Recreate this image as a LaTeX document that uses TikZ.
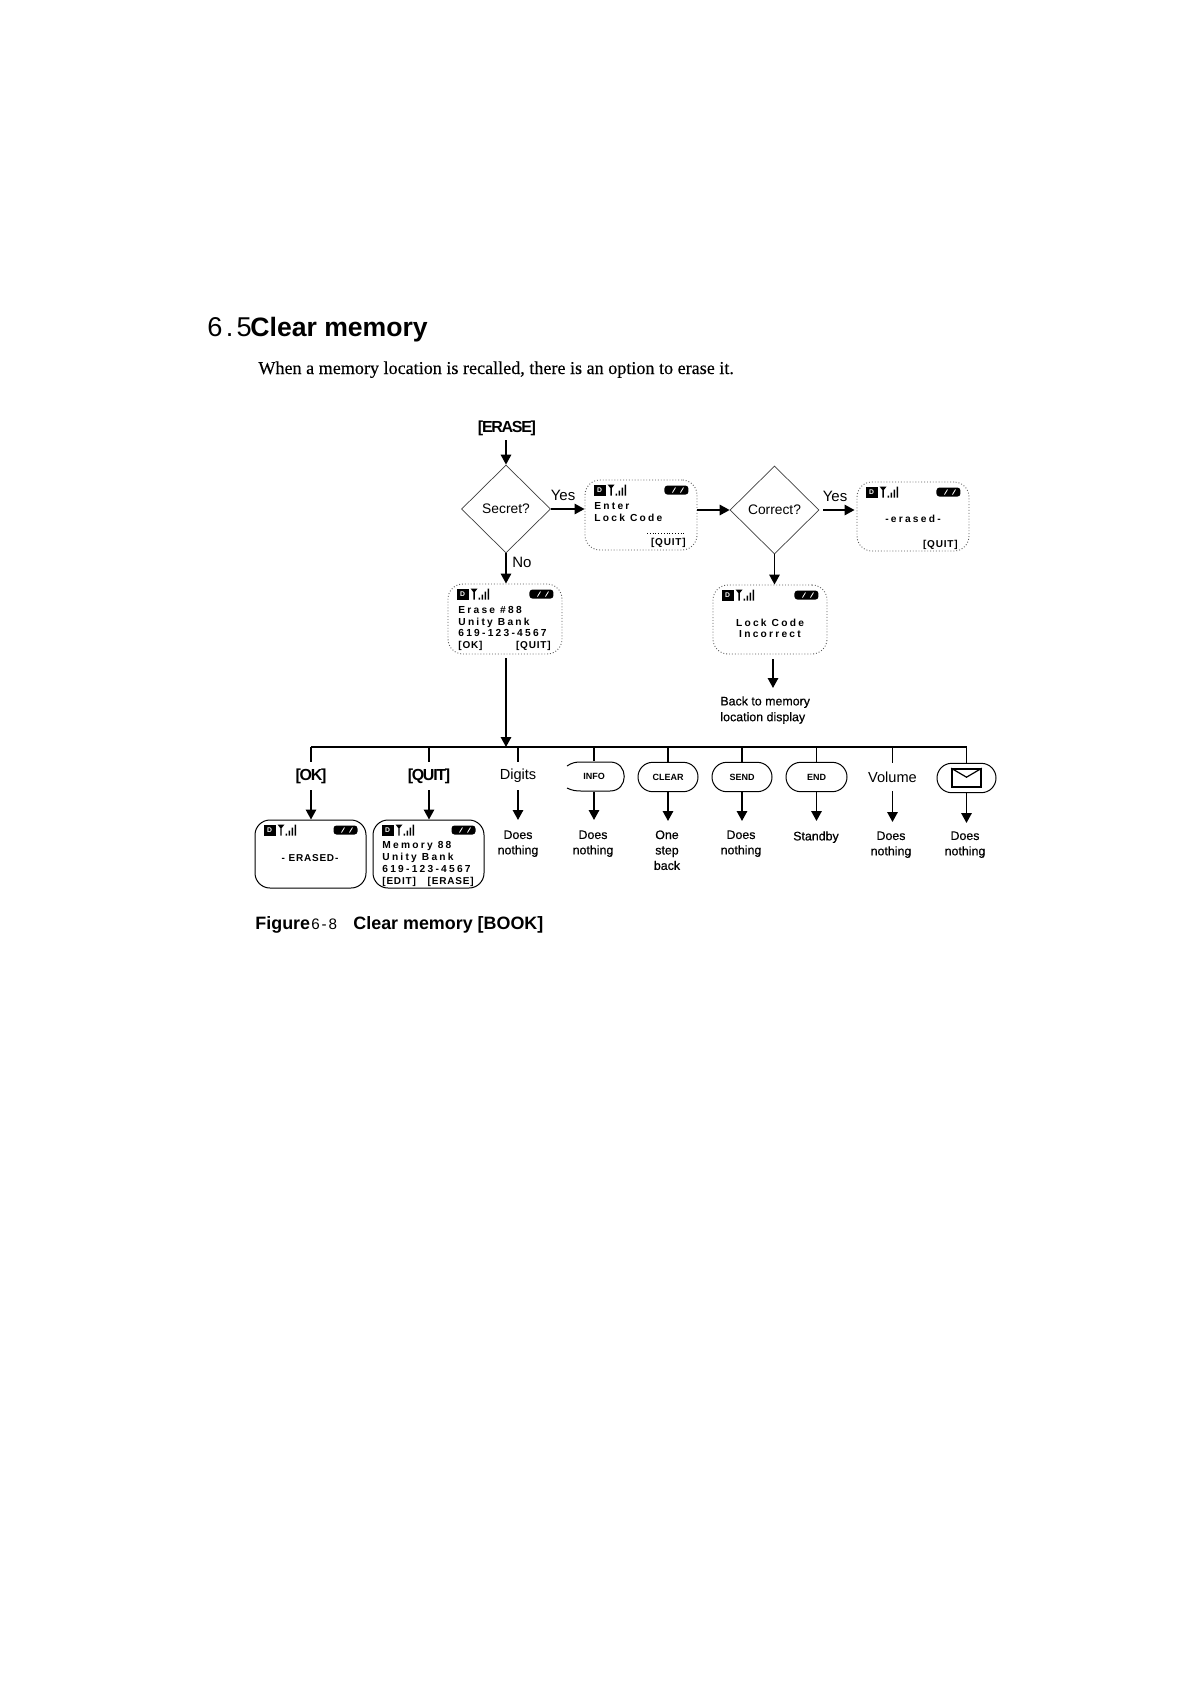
\documentclass[tikz,border=0pt]{standalone}
\usepackage{fontspec}
\setmainfont{Liberation Serif}[FakeBold=0.25]
\newfontfamily\fsans{Liberation Sans}
\newfontfamily\notefont[FakeBold=0.4]{Liberation Sans}
\newfontfamily\lcdfont[LetterSpace=22]{Liberation Sans}
\newfontfamily\widefont[LetterSpace=12]{Liberation Sans}
\newfontfamily\keyfont[LetterSpace=8]{Liberation Sans}
\newfontfamily\tightfont[LetterSpace=-8]{Liberation Sans}
\usetikzlibrary{arrows.meta,shapes.geometric,shapes.misc}
\tikzset{
  flow/.style={line width=0.9pt,-{Triangle[length=5pt,width=5.2pt]}},
  stub/.style={line width=0.6pt},
  bus/.style={line width=1pt},
  decision/.style={diamond,draw=black!75,line width=0.35pt,inner sep=0pt,aspect=1,font=\fsans\fontsize{6.9}{8}\selectfont},
  screenlight/.style={draw=black!65,densely dotted,line width=0.45pt,rounded corners=7.5pt,inner sep=0pt},
  screendark/.style={draw=black,line width=0.5pt,rounded corners=7.5pt,inner sep=0pt},
  lcd/.style={font=\lcdfont\bfseries\fontsize{5.1}{6}\selectfont,inner sep=0pt},
  lcdkey/.style={font=\keyfont\bfseries\fontsize{5}{6}\selectfont,inner sep=0pt},
  keylabel/.style={font=\tightfont\bfseries\fontsize{8}{9}\selectfont,inner sep=0pt,minimum height=14pt},
  plainkey/.style={font=\fsans\fontsize{7.3}{9}\selectfont,inner sep=0pt,minimum height=14pt},
  pill/.style={rounded rectangle,draw=black,line width=0.5pt,inner sep=0pt,minimum height=14.7pt,font=\fsans\bfseries\fontsize{4.5}{6}\selectfont},
  note/.style={font=\notefont\fontsize{6.2}{7.7}\selectfont,inner sep=0pt,align=center,anchor=north},
  yesno/.style={font=\fsans\fontsize{7.5}{9}\selectfont,inner sep=0pt},
}
% name, centre x, centre y, width, height, style
\newcommand{\phonebox}[6]{%
  \node[#6,minimum width=#4*0.5pt,minimum height=#5*0.5pt] (#1) at (#2,#3) {};
  \begin{scope}[shift={(#1.north west)}]
    \fill (9,5) rectangle (21,16);
    \node[inner sep=0pt,text=white,font=\fsans\bfseries\fontsize{3.4}{4}\selectfont] (#1-d) at (15,10.5) {D};
    \fill (23,5) -- (30,5) -- (27.2,8.5) -- (27.2,16) -- (25.8,16) -- (25.8,8.5) -- cycle;
    \fill (31,14) rectangle (32.5,16) (34,11) rectangle (35.5,16) (37,8) rectangle (38.5,16) (40,5) rectangle (41.5,16);
  \end{scope}
  \begin{scope}[shift={(#1.north east)}]
    \fill[rounded corners=1.5pt] (-33,6) rectangle (-9,15);
    \draw[white,line width=0.4pt] (-25,13) -- (-22,8) (-17,13) -- (-14,8);
  \end{scope}
}
\begin{document}
\begin{tikzpicture}[x=0.5pt,y=-0.5pt]
\useasboundingbox (0,0) rectangle (1182,1682);
\fill[white] (0,0) rectangle (1182,1682);

% heading
\node[font=\widefont\fontsize{13.6}{16}\selectfont,inner sep=0pt,anchor=base west] (secnum) at (207,336) {6.5};
\node[font=\fsans\bfseries\fontsize{13.3}{16}\selectfont,inner sep=0pt,anchor=base west] (sectitle) at (250,336) {Clear memory};
\node[font=\rmfamily\fontsize{9.05}{11}\selectfont,inner sep=0pt,anchor=base west] (intro) at (258,374) {When a memory location is recalled, there is an option to erase it.};

% top row
\node[keylabel] (erasekey) at (507,428) {[ERASE]};
\node[decision,minimum width=44.5pt,minimum height=44pt] (secret) at (506,509) {Secret?};
\node[yesno] (yes1) at (563,495) {Yes};
\phonebox{enter}{641}{515}{112}{70}{screenlight}
\node[lcd,anchor=base west] (enter-a) at (594,509) {Enter};
\node[lcd,anchor=base west] (enter-b) at (594,521) {Lock Code};
\draw[densely dotted,line width=0.4pt] (647,533) -- (685,533);
\node[lcdkey,anchor=base east] (enter-q) at (686,545) {[QUIT]};
\node[decision,minimum width=44.5pt,minimum height=44pt] (correct) at (774.5,510) {Correct?};
\node[yesno] (yes2) at (835,496) {Yes};
\phonebox{erased}{913}{516.5}{112}{69}{screenlight}
\node[lcd,anchor=base] (erased-a) at (913,522) {-erased-};
\node[lcdkey,anchor=base east] (erased-q) at (958,547) {[QUIT]};

% second row
\node[yesno] (no1) at (522,562) {No};
\phonebox{erasebox}{505}{619}{114}{70}{screenlight}
\node[lcd,anchor=base west] (erasebox-a) at (458,613) {Erase \#88};
\node[lcd,anchor=base west] (erasebox-b) at (458,625) {Unity Bank};
\node[lcd,anchor=base west] (erasebox-c) at (458,636) {619-123-4567};
\node[lcdkey,anchor=base west] (erasebox-o) at (458,648) {[OK]};
\node[lcdkey,anchor=base east] (erasebox-q) at (551,648) {[QUIT]};
\phonebox{lockbox}{770}{619.5}{114}{69}{screenlight}
\node[lcd,anchor=base] (lockbox-a) at (770,626) {Lock Code};
\node[lcd,anchor=base] (lockbox-b) at (770,637) {Incorrect};
\node[font=\notefont\fontsize{6.2}{7.9}\selectfont,inner sep=0pt,align=left,anchor=north west] (back) at (720,696) {Back to memory\\location display};

% top connectors
\draw[flow] (erasekey.south) ++(-1,-2) -- (secret.north);
\draw[flow] (secret.east) -- (secret.east -| enter.west);
\draw[flow] (correct.west -| enter.east) -- (correct.west);
\draw[flow,shorten <=2pt,shorten >=1pt] (correct.east) -- (correct.east -| erased.west);
\draw[flow] (secret.south) -- (secret.south |- erasebox.north);
\draw[flow] (correct.south) -- (correct.south |- lockbox.north);
\coordinate (backtop) at (773,688);
\draw[flow,shorten <=2.5pt] (lockbox.south -| backtop) -- (backtop);

% bus
\coordinate (busleft) at (311,747);
\coordinate (busright) at (967,747);
\coordinate (busin) at (506,747);
\draw[bus] (busleft) -- (busright);
\draw[flow,shorten <=2pt] (erasebox.south -| busin) -- (busin);

% keys
\node[keylabel] (okkey) at (311,776) {[OK]};
\node[keylabel] (quitkey) at (429,776) {[QUIT]};
\node[plainkey] (digits) at (518,776) {Digits};
\node[pill,draw=none,minimum width=28.5pt] (info) at (594,776.5) {INFO};
\draw[line width=0.5pt] (567,766) .. controls (572,762.5) and (576,762) .. (581,762) -- (610,762) .. controls (629,762) and (629,791) .. (610,791) -- (581,791) .. controls (576,791) and (572,790.5) .. (567,788);
\node[pill,minimum width=30pt] (clear) at (668,777) {CLEAR};
\node[pill,minimum width=30pt] (send) at (742,777) {SEND};
\node[pill,minimum width=30.5pt] (endkey) at (816.5,777) {END};
\node[plainkey] (volume) at (892.5,777) {Volume};
\node[pill,minimum width=29.5pt] (mail) at (966.5,778) {};
\node[draw=black,line width=0.8pt,minimum width=14.5pt,minimum height=9pt,inner sep=0pt] (mailicon) at (966.5,778) {};
\draw[line width=0.6pt] (mailicon.north west) -- ([yshift=-4.5pt]mailicon.north) -- (mailicon.north east);

% drops from the bus
\foreach \k in {okkey,quitkey,digits,info,clear,send,endkey,volume,mail}{
  \coordinate (drop-\k) at (\k.north |- busleft);
}
\draw[stub] (drop-okkey) -- (okkey.north);
\draw[stub] (drop-quitkey) -- (quitkey.north);
\draw[stub] (drop-digits) -- (digits.north);
\draw[stub] (drop-info) -- (info.north);
\draw[stub] (drop-clear) -- (clear.north);
\draw[stub] (drop-send) -- (send.north);
\draw[stub] (drop-endkey) -- (endkey.north);
\draw[stub] (drop-volume) -- (volume.north);
\draw[stub] (drop-mail) -- (mail.north);

% results
\phonebox{okbox}{310.5}{854}{111}{68}{screendark}
\node[lcdkey,anchor=base] (okbox-a) at (310,861) {- ERASED-};
\phonebox{memory}{428.5}{854}{111}{68}{screendark}
\node[lcd,anchor=base west] (memory-a) at (382,848) {Memory 88};
\node[lcd,anchor=base west] (memory-b) at (382,860) {Unity Bank};
\node[lcd,anchor=base west] (memory-c) at (382,872) {619-123-4567};
\node[lcdkey,anchor=base west] (memory-e) at (382,884) {[EDIT]};
\node[lcdkey,anchor=base east] (memory-r) at (474,884) {[ERASE]};

\node[note] (res-digits) at (518,830) {Does\\nothing};
\node[note] (res-info) at (593,830) {Does\\nothing};
\node[note] (res-clear) at (667,830) {One\\step\\back};
\node[note] (res-send) at (741,830) {Does\\nothing};
\node[note] (res-end) at (816,831) {Standby};
\node[note] (res-volume) at (891,831) {Does\\nothing};
\node[note] (res-mail) at (965,831) {Does\\nothing};

% arrows to results
\draw[flow] (okkey.south) -- (okkey.south |- okbox.north);
\draw[flow] (quitkey.south) -- (quitkey.south |- memory.north);
\draw[flow] (digits.south) -- (digits.south |- 0,820);
\draw[flow] (info.south) -- (info.south |- 0,820);
\draw[flow] (clear.south) -- (clear.south |- 0,821);
\draw[flow] (send.south) -- (send.south |- 0,821);
\draw[flow] (endkey.south) -- (endkey.south |- 0,821);
\draw[flow] (volume.south) -- (volume.south |- 0,822);
\draw[flow] (mail.south) -- (mail.south |- 0,823);

% caption
\node[font=\fsans\bfseries\fontsize{8.95}{11}\selectfont,inner sep=0pt,anchor=base west] (figword) at (255,929) {Figure};
\node[font=\widefont\fontsize{7.6}{11}\selectfont,inner sep=0pt,anchor=base west] (fignum) at (311,929) {6-8};
\node[font=\fsans\bfseries\fontsize{8.95}{11}\selectfont,inner sep=0pt,anchor=base west] (figtext) at (353,929) {Clear memory [BOOK]};
\end{tikzpicture}
\end{document}
